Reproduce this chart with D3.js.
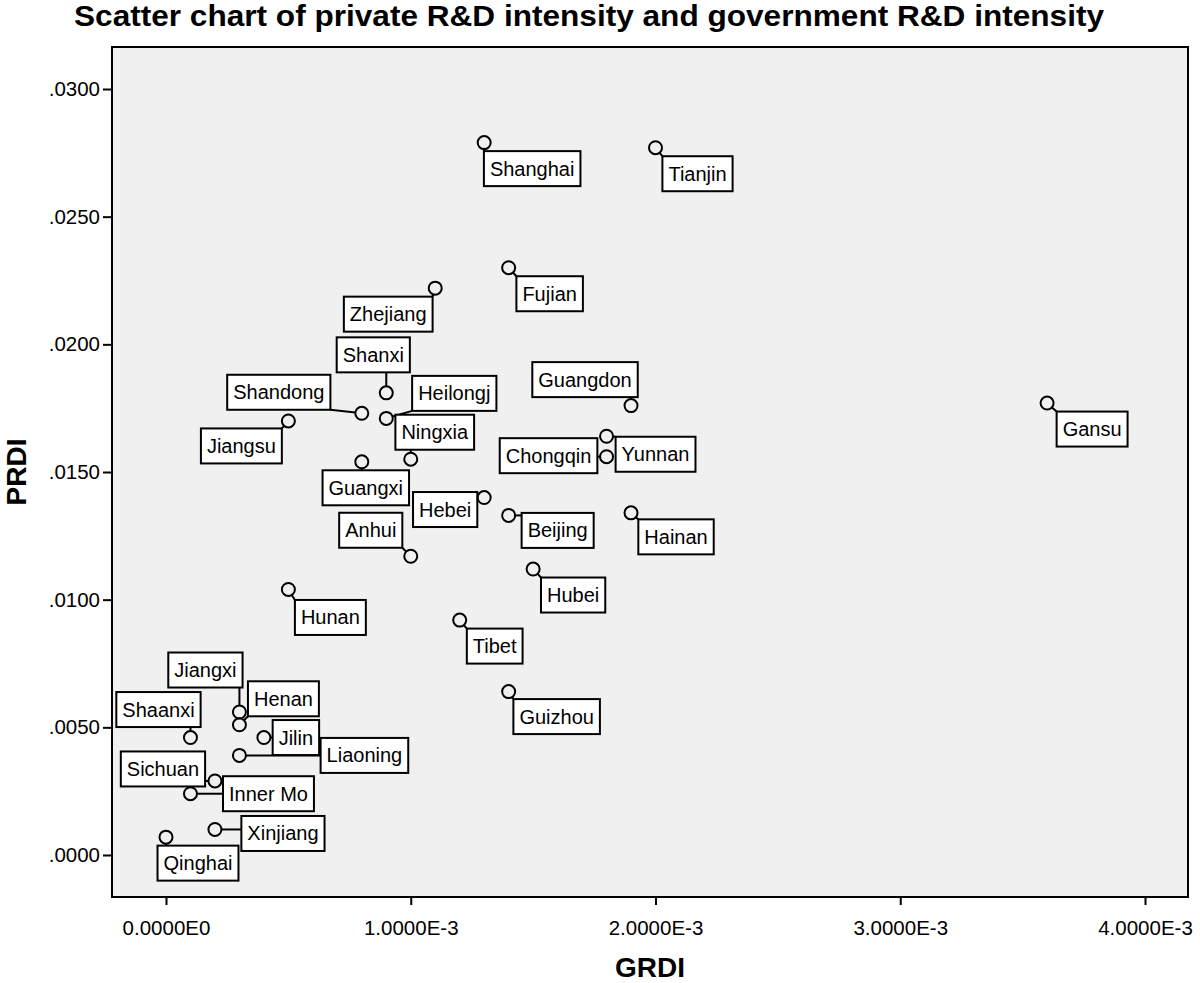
<!DOCTYPE html>
<html>
<head>
<meta charset="utf-8">
<script src="https://cdn.jsdelivr.net/npm/d3@7"></script>
<style>
  html, body { margin: 0; padding: 0; background: #ffffff; }
  svg { display: block; font-family: "Liberation Sans", Arial, sans-serif; }
</style>
</head>
<body>
<svg id="chart" width="1200" height="983"></svg>
<script>
// ---- data ----
const provinces = ["Shanghai","Tianjin","Fujian","Zhejiang","Shanxi","Shandong","Heilongjiang","Jiangsu",
  "Guangdong","Gansu","Yunnan","Chongqing","Ningxia","Guangxi","Hebei","Beijing","Hainan","Anhui",
  "Hubei","Hunan","Tibet","Guizhou","Jiangxi","Henan","Jilin","Shaanxi","Liaoning","Sichuan",
  "Inner Mongolia","Xinjiang","Qinghai"];
const grdi = [0.0013,0.0020,0.0014,0.0011,0.0009,0.0008,0.0009,0.0005,
  0.0019,0.0036,0.0018,0.0018,0.0010,0.0008,0.0013,0.0014,0.0019,0.0010,
  0.0015,0.0005,0.0012,0.0014,0.0003,0.0003,0.0004,0.0001,0.0003,0.0002,
  0.0001,0.0002,0.0000];
const prdi = [0.0279,0.0277,0.0230,0.0222,0.0181,0.0173,0.0171,0.0170,
  0.0176,0.0177,0.0164,0.0156,0.0155,0.0154,0.0140,0.0133,0.0134,0.0117,
  0.0112,0.0104,0.0092,0.0064,0.0056,0.0051,0.0046,0.0046,0.0039,0.0029,
  0.0024,0.0010,0.0007];
const xTicks = [0, 0.001, 0.002, 0.003, 0.004];
const yTicks = [0, 0.005, 0.010, 0.015, 0.020, 0.025, 0.030];

// label box centre offsets (pixels, relative to the point)
const labelOffsets = [[48,26],[42,26],[41,26],[-47,26],[-13,-38],[-83,-21],[68,-25],[-47,25],
  [-46,-26],[45,26],[49,18],[-58,-1],[24,-27],[4,26],[-39,12],[49,15],[45,24],[-40,-26],
  [40,26],[42,28],[35,26],[48,25],[-34,-42],[44,-26],[32,0],[-32,-28],[125,0],[-52,-12],
  [78,0],[68,4],[32,26]];

// ---- layout ----
const svg = d3.select("#chart");
const frame = {left: 112, top: 47, right: 1188, bottom: 897};
const x = d3.scaleLinear().domain([0, 0.004]).range([166, 1145]);
const y = d3.scaleLinear().domain([0, 0.03]).range([855, 89]);

svg.append("text")
  .attr("x", 589).attr("y", 26)
  .attr("text-anchor", "middle")
  .attr("font-size", 30).attr("font-weight", "bold")
  .attr("textLength", 1030).attr("lengthAdjust", "spacingAndGlyphs")
  .text("Scatter chart of private R&D intensity and government R&D intensity");

svg.append("rect")
  .attr("x", frame.left).attr("y", frame.top)
  .attr("width", frame.right - frame.left).attr("height", frame.bottom - frame.top)
  .attr("fill", "#f0f0f0").attr("stroke", "#000").attr("stroke-width", 2);

const fmtX = d => {
  if (d === 0) return "0.0000E0";
  const e = Math.floor(Math.log10(d) + 1e-9);
  return (d / Math.pow(10, e)).toFixed(4) + "E" + e;
};
const fmtY = d => d3.format(".4f")(d).slice(1);

const xAxis = svg.append("g")
  .attr("transform", `translate(0,${frame.bottom})`)
  .call(d3.axisBottom(x).tickValues(xTicks).tickFormat(fmtX).tickSize(8).tickPadding(15));
const yAxis = svg.append("g")
  .attr("transform", `translate(${frame.left},0)`)
  .call(d3.axisLeft(y).tickValues(yTicks).tickFormat(fmtY).tickSize(9).tickPadding(3));
[xAxis, yAxis].forEach(g => {
  g.select(".domain").remove();
  g.selectAll(".tick line").attr("stroke", "#000").attr("stroke-width", 2);
  g.selectAll(".tick text").attr("fill", "#000").attr("font-size", 20.5)
    .attr("font-family", "'Liberation Sans', Arial, sans-serif");
});

svg.append("text")
  .attr("x", (frame.left + frame.right) / 2).attr("y", 977)
  .attr("text-anchor", "middle").attr("font-size", 28).attr("font-weight", "bold")
  .text("GRDI");
svg.append("text")
  .attr("transform", `translate(26,${(frame.top + frame.bottom) / 2}) rotate(-90)`)
  .attr("text-anchor", "middle").attr("font-size", 28).attr("font-weight", "bold")
  .text("PRDI");

// ---- points and labels ----
const data = provinces.map((p, i) => ({
  name: p, label: p.slice(0, 8), gx: grdi[i], py: prdi[i],
  ox: labelOffsets[i][0], oy: labelOffsets[i][1]
}));

const R = 6.5;
const gLeaders = svg.append("g");
const gLabels = svg.append("g");
const gPoints = svg.append("g");

data.forEach(d => {
  const px = x(d.gx), py = y(d.py);
  const cx = px + d.ox, cy = py + d.oy;
  const lg = gLabels.append("g");
  const t = lg.append("text")
    .attr("x", cx).attr("y", cy + 7)
    .attr("text-anchor", "middle").attr("font-size", 20)
    .text(d.label);
  const w = t.node().getComputedTextLength() + 12, h = 35;
  const bx = cx - w / 2, by = cy - h / 2;
  lg.insert("rect", "text")
    .attr("x", bx).attr("y", by).attr("width", w).attr("height", h)
    .attr("fill", "#fff").attr("stroke", "#000").attr("stroke-width", 2);
  // leader from circle edge to nearest point on box
  const nx = Math.max(bx, Math.min(px, bx + w));
  const ny = Math.max(by, Math.min(py, by + h));
  const dist = Math.hypot(nx - px, ny - py);
  if (dist > R) {
    const sx = px + (nx - px) / dist * R, sy = py + (ny - py) / dist * R;
    gLeaders.append("line")
      .attr("x1", sx).attr("y1", sy).attr("x2", nx).attr("y2", ny)
      .attr("stroke", "#000").attr("stroke-width", 2);
  }
});

gPoints.selectAll("circle").data(data).join("circle")
  .attr("cx", d => x(d.gx)).attr("cy", d => y(d.py)).attr("r", R)
  .attr("fill", "none").attr("stroke", "#000").attr("stroke-width", 2);
</script>
</body>
</html>
